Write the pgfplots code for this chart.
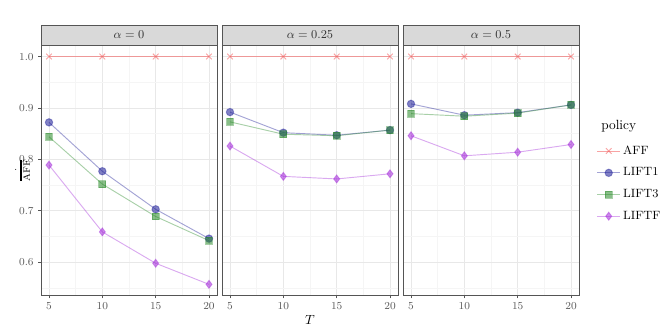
\documentclass[border=0pt]{standalone}
\usepackage{pgfplots}
\pgfplotsset{compat=1.18}
\usepgfplotslibrary{groupplots}
\definecolor{cAFF}{HTML}{F35757}
\definecolor{cL1}{HTML}{1A1A96}
\definecolor{cL3}{HTML}{268926}
\definecolor{cLF}{HTML}{A228D9}
\definecolor{strip}{HTML}{D9D9D9}
\definecolor{frame}{HTML}{555555}

\pgfplotsset{
  sAFF/.style={color=cAFF, opacity=0.55, mark=x, mark size=3pt, line width=0.7pt},
  sL1/.style={color=cL1, opacity=0.4, mark=*, mark size=2.8pt, line width=0.7pt,
    mark options={draw=none, fill=cL1, fill opacity=0.55}},
  sL3/.style={color=cL3, opacity=0.4, mark=square*, mark size=2.6pt, line width=0.7pt,
    mark options={draw=none, fill=cL3, fill opacity=0.55}},
  sLF/.style={color=cLF, opacity=0.4, mark=diamond*, mark size=3pt, line width=0.7pt,
    mark options={draw=none, fill=cLF, fill opacity=0.55}},
  strip/.style={
    after end axis/.append code={
      \draw[fill=strip, draw=frame, line width=0.6pt] (rel axis cs:0,1) rectangle ([yshift=15pt]rel axis cs:1,1);
      \node[font=\small, text=black!80] at ([yshift=7.5pt]rel axis cs:0.5,1) {#1};
    }},
}

\begin{document}
\begin{tikzpicture}
\begin{groupplot}[
  group style={group size=3 by 1, horizontal sep=3.75pt, yticklabels at=edge left},
  width=132pt, height=188pt, scale only axis,
  xmin=4.25, xmax=20.75, ymin=0.535, ymax=1.0225,
  xtick={5,10,15,20}, ytick={0.6,0.7,0.8,0.9,1.0},
  minor xtick={7.5,12.5,17.5}, minor ytick={0.55,0.65,0.75,0.85,0.95},
  xtick pos=bottom, ytick pos=left,
  grid=both,
  major grid style={black!9, line width=0.5pt},
  minor grid style={black!4, line width=0.3pt},
  axis line style={frame, line width=0.6pt},
  tick align=outside, major tick length=2pt, minor tick length=0pt,
  tick style={frame, line width=0.5pt},
  tick label style={font=\footnotesize, text=black!65},
  yticklabel style={/pgf/number format/.cd, fixed, fixed zerofill, precision=1},
  xticklabel style={/pgf/number format/.cd, fixed},
  clip=false,
]
\nextgroupplot[strip={$\alpha = 0$},
  ylabel={$\frac{\cdot}{\overline{\mathrm{AFF}}}$},
  ylabel style={font=\normalsize, yshift=-15pt}]
\addplot[sAFF] coordinates {(5,1) (10,1) (15,1) (20,1)};
\addplot[sL1] coordinates {(5,0.872) (10,0.777) (15,0.703) (20,0.646)};
\addplot[sL3] coordinates {(5,0.844) (10,0.752) (15,0.689) (20,0.642)};
\addplot[sLF] coordinates {(5,0.789) (10,0.659) (15,0.598) (20,0.557)};

\nextgroupplot[strip={$\alpha = 0.25$}, major y tick style={draw=none},
  xlabel={$T$}, xlabel style={font=\normalsize, yshift=3pt}]
\addplot[sAFF] coordinates {(5,1) (10,1) (15,1) (20,1)};
\addplot[sL1] coordinates {(5,0.892) (10,0.852) (15,0.847) (20,0.857)};
\addplot[sL3] coordinates {(5,0.873) (10,0.849) (15,0.846) (20,0.857)};
\addplot[sLF] coordinates {(5,0.826) (10,0.767) (15,0.762) (20,0.772)};

\nextgroupplot[strip={$\alpha = 0.5$}, major y tick style={draw=none},
  legend style={at={(1.1,0.61)}, anchor=north west, draw=none, fill=none,
    font=\small, row sep=4.6pt, inner sep=0pt},
  legend cell align=left]
\addplot[sAFF] coordinates {(5,1) (10,1) (15,1) (20,1)};
\addlegendentry{AFF}
\addplot[sL1] coordinates {(5,0.908) (10,0.886) (15,0.891) (20,0.906)};
\addlegendentry{LIFT1}
\addplot[sL3] coordinates {(5,0.889) (10,0.884) (15,0.890) (20,0.906)};
\addlegendentry{LIFT3}
\addplot[sLF] coordinates {(5,0.846) (10,0.807) (15,0.814) (20,0.829)};
\addlegendentry{LIFTF}
\node[anchor=west, font=\normalsize] at (rel axis cs:1.1,0.675) {policy};
\end{groupplot}
\pgfresetboundingbox
\path ([xshift=-30.75pt, yshift=-27pt]group c1r1.south west)
      ([xshift=63.75pt, yshift=33.75pt]group c3r1.north east);
\end{tikzpicture}
\end{document}
